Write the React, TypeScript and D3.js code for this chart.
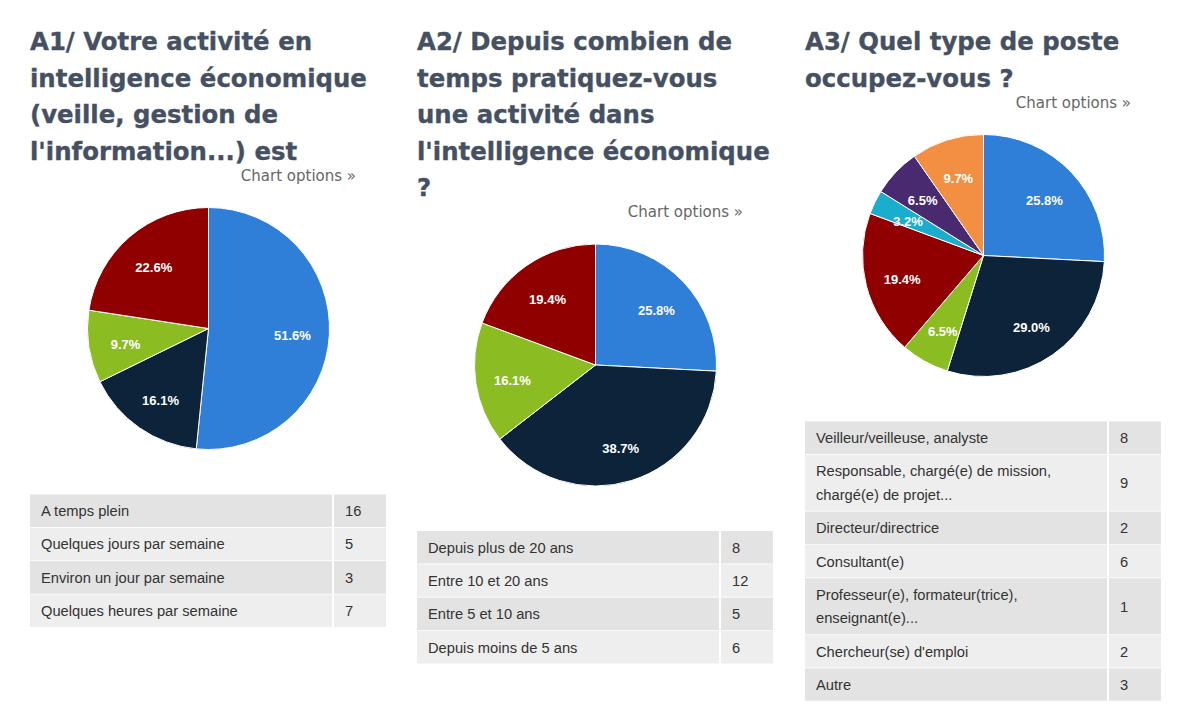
import React from "react";
import * as d3 from "d3";

// ---------- Data ----------
const PALETTE = ["#2f7ed8", "#0d233a", "#8bbc21", "#910000", "#1aadce", "#492970", "#f28f43"];

const A1_TITLE = ["A1/ Votre activité en", "intelligence économique", "(veille, gestion de", "l'information...) est"];
const A1_CATEGORIES = ["A temps plein", "Quelques jours par semaine", "Environ un jour par semaine", "Quelques heures par semaine"];
const A1_VALUES = [16, 5, 3, 7];

const A2_TITLE = ["A2/ Depuis combien de", "temps pratiquez-vous", "une activité dans", "l'intelligence économique", "?"];
const A2_CATEGORIES = ["Depuis plus de 20 ans", "Entre 10 et 20 ans", "Entre 5 et 10 ans", "Depuis moins de 5 ans"];
const A2_VALUES = [8, 12, 5, 6];

const A3_TITLE = ["A3/ Quel type de poste", "occupez-vous ?"];
const A3_CATEGORIES = [
  "Veilleur/veilleuse, analyste",
  "Responsable, chargé(e) de mission, chargé(e) de projet...",
  "Directeur/directrice",
  "Consultant(e)",
  "Professeur(e), formateur(trice), enseignant(e)...",
  "Chercheur(se) d'emploi",
  "Autre",
];
const A3_VALUES = [8, 9, 2, 6, 1, 2, 3];

const LINK_TEXT = "Chart options »";

// ---------- Layout / style ----------
const W = 1189;
const H = 720;
const TITLE_FONT = "'DejaVu Sans', Verdana, sans-serif";
const TABLE_FONT = "'Liberation Sans', Arial, sans-serif";
const TITLE_COLOR = "#465063";
const RADIUS = 121;
const TITLE_TOP = 50;
const TITLE_LH = 36.5;
const TABLE_W = 356;
const VALUE_COL = 303;
const ROW_H = 33.3;
const LINE_H = 23.5;
const TEXT_MAX = 278;
const TABLE_FS = 14.7;

let _ctx: CanvasRenderingContext2D | null = null;
function measure(text: string): number {
  if (!_ctx) {
    const c = document.createElement("canvas");
    _ctx = c.getContext("2d");
  }
  if (!_ctx) return text.length * 7;
  _ctx.font = `${TABLE_FS}px ${TABLE_FONT}`;
  return _ctx.measureText(text).width;
}

function wrap(text: string, max: number): string[] {
  const words = text.split(" ");
  const lines: string[] = [];
  let cur = "";
  for (const w of words) {
    const t = cur ? cur + " " + w : w;
    if (measure(t) > max && cur) {
      lines.push(cur);
      cur = w;
    } else cur = t;
  }
  if (cur) lines.push(cur);
  return lines;
}

type PanelProps = { x: number; title: string[]; categories: string[]; values: number[] };

function Panel({ x, title, categories, values }: PanelProps) {
  const lastTitleBaseline = TITLE_TOP + (title.length - 1) * TITLE_LH;
  const linkBaseline = lastTitleBaseline + 21;
  const cx = x + 178.5;
  const cy = linkBaseline + 27 + RADIUS;
  const total = d3.sum(values);
  const pie = d3.pie<number>().sort(null).value((d) => d);
  const arcs = pie(values);
  const arc = d3.arc<d3.PieArcDatum<number>>().innerRadius(0).outerRadius(RADIUS);
  const labelArc = d3.arc<d3.PieArcDatum<number>>().innerRadius(84).outerRadius(84);
  const fmt = d3.format(".1%");

  const tableTop = cy + RADIUS + 45;
  const rows = categories.map((c) => wrap(c, TEXT_MAX));
  let yAcc = tableTop;
  const rowLayout = rows.map((lines) => {
    const h = ROW_H + (lines.length - 1) * LINE_H;
    const r = { y: yAcc, h, lines };
    yAcc += h;
    return r;
  });

  return (
    <g>
      <text fontFamily={TITLE_FONT} fontWeight="bold" fontSize={24.4} fill={TITLE_COLOR} stroke={TITLE_COLOR} strokeWidth={0.35}>
        {title.map((t, i) => (
          <tspan key={i} x={x} y={TITLE_TOP + i * TITLE_LH}>
            {t}
          </tspan>
        ))}
      </text>
      <text x={x + 326} y={linkBaseline} textAnchor="end" fontFamily={TITLE_FONT} fontSize={15} fill="#666666">
        {LINK_TEXT}
      </text>
      <g transform={`translate(${cx},${cy})`}>
        {arcs.map((a, i) => (
          <path key={i} d={arc(a) || ""} fill={PALETTE[i % PALETTE.length]} stroke="#ffffff" strokeWidth={1} strokeLinejoin="round" />
        ))}
        {arcs.map((a, i) => {
          const [lx, ly] = labelArc.centroid(a);
          return (
            <text
              key={"l" + i}
              x={lx}
              y={ly + 3}
              textAnchor="middle"
              dominantBaseline="central"
              fontFamily={TABLE_FONT}
              fontWeight="bold"
              fontSize={13}
              fill="#ffffff"
            >
              {fmt(a.data / total)}
            </text>
          );
        })}
      </g>
      <g>
        {rowLayout.map((r, i) => {
          const fill = i % 2 === 0 ? "#e3e3e3" : "#eeeeee";
          const mid = r.y + r.h / 2;
          const first = mid - ((r.lines.length - 1) * LINE_H) / 2;
          return (
            <g key={i}>
              <rect x={x} y={r.y} width={VALUE_COL} height={r.h} fill={fill} />
              <rect x={x + VALUE_COL} y={r.y} width={TABLE_W - VALUE_COL} height={r.h} fill={fill} />
              <line x1={x} x2={x + TABLE_W} y1={r.y + r.h} y2={r.y + r.h} stroke="#ffffff" strokeWidth={1.5} />
              <line x1={x + VALUE_COL} x2={x + VALUE_COL} y1={r.y} y2={r.y + r.h} stroke="#ffffff" strokeWidth={2} />
              <text fontFamily={TABLE_FONT} fontSize={TABLE_FS} fill="#333333">
                {r.lines.map((l, j) => (
                  <tspan key={j} x={x + 11} y={first + j * LINE_H + 5}>
                    {l}
                  </tspan>
                ))}
              </text>
              <text x={x + VALUE_COL + 12} y={mid + 5} fontFamily={TABLE_FONT} fontSize={TABLE_FS} fill="#333333">
                {values[i]}
              </text>
            </g>
          );
        })}
      </g>
    </g>
  );
}

export default function App() {
  return (
    <div style={{ position: "fixed", left: 0, top: 0, width: W, height: H, background: "#ffffff" }}>
      <svg width={W} height={H} viewBox={`0 0 ${W} ${H}`} style={{ display: "block" }}>
        <rect width={W} height={H} fill="#ffffff" />
        <Panel x={30} title={A1_TITLE} categories={A1_CATEGORIES} values={A1_VALUES} />
        <Panel x={417} title={A2_TITLE} categories={A2_CATEGORIES} values={A2_VALUES} />
        <Panel x={805} title={A3_TITLE} categories={A3_CATEGORIES} values={A3_VALUES} />
      </svg>
    </div>
  );
}
